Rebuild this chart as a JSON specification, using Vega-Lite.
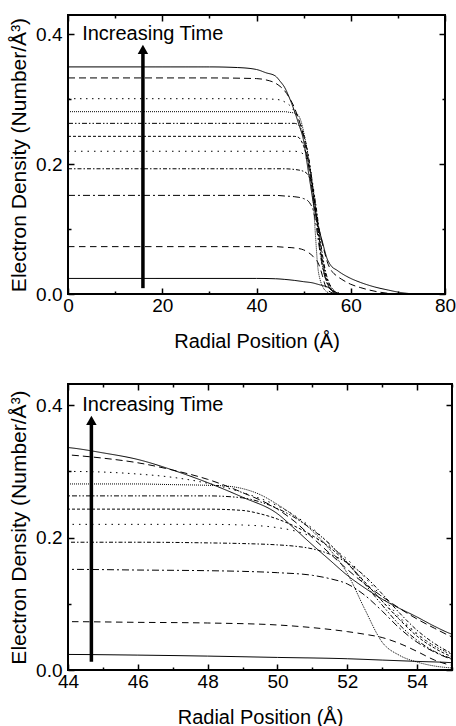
{
  "$schema": "https://vega.github.io/schema/vega-lite/v6.json",
  "background": "white",
  "padding": {"left": 7, "top": 13, "right": 0, "bottom": 0},
  "spacing": 30,
  "config": {
    "view": {"stroke": "black", "strokeWidth": 2},
    "font": "Liberation Sans",
    "axis": {
      "domain": false, "grid": false, "labelFont": "Liberation Sans", "labelFontSize": 19, "labelColor": "black",
      "titleFont": "Liberation Sans", "titleFontSize": 20, "titleFontWeight": "normal", "titleColor": "black",
      "tickColor": "black", "tickWidth": 1.5, "labelFlush": false, "labelOverlap": false
    },
    "axisX": {"labelPadding": 8, "titlePadding": 13},
    "axisY": {"labelPadding": 12, "titlePadding": 6, "titleFontSize": 21}
  },
  "datasets": {
    "curves": [
      {"c":"a","x":0,"y":0.350},{"c":"a","x":30,"y":0.350},{"c":"a","x":36,"y":0.349},{"c":"a","x":40,"y":0.346},{"c":"a","x":42,"y":0.341},{"c":"a","x":44,"y":0.336},{"c":"a","x":45,"y":0.328},{"c":"a","x":46,"y":0.318},{"c":"a","x":47,"y":0.302},{"c":"a","x":48,"y":0.283},{"c":"a","x":49,"y":0.261},{"c":"a","x":50,"y":0.236},{"c":"a","x":50.5,"y":0.213},{"c":"a","x":51,"y":0.189},{"c":"a","x":51.5,"y":0.166},{"c":"a","x":52,"y":0.143},{"c":"a","x":52.5,"y":0.124},{"c":"a","x":53,"y":0.107},{"c":"a","x":53.5,"y":0.093},{"c":"a","x":54,"y":0.080},{"c":"a","x":54.5,"y":0.066},{"c":"a","x":55,"y":0.054},{"c":"a","x":55.5,"y":0.047},{"c":"a","x":56,"y":0.042},{"c":"a","x":57,"y":0.037},{"c":"a","x":58,"y":0.032},{"c":"a","x":60,"y":0.024},{"c":"a","x":62,"y":0.018},{"c":"a","x":65,"y":0.011},{"c":"a","x":68,"y":0.006},{"c":"a","x":70,"y":0.003},{"c":"a","x":72,"y":0.001},{"c":"a","x":74,"y":0},{"c":"a","x":80,"y":0},
      {"c":"b","x":0,"y":0.333},{"c":"b","x":30,"y":0.333},{"c":"b","x":40,"y":0.332},{"c":"b","x":42,"y":0.330},{"c":"b","x":44,"y":0.325},{"c":"b","x":45,"y":0.320},{"c":"b","x":46,"y":0.313},{"c":"b","x":47,"y":0.302},{"c":"b","x":48,"y":0.288},{"c":"b","x":49,"y":0.268},{"c":"b","x":50,"y":0.243},{"c":"b","x":50.5,"y":0.224},{"c":"b","x":51,"y":0.200},{"c":"b","x":51.5,"y":0.176},{"c":"b","x":52,"y":0.152},{"c":"b","x":52.5,"y":0.130},{"c":"b","x":53,"y":0.111},{"c":"b","x":53.5,"y":0.093},{"c":"b","x":54,"y":0.077},{"c":"b","x":54.5,"y":0.063},{"c":"b","x":55,"y":0.050},{"c":"b","x":55.5,"y":0.041},{"c":"b","x":56,"y":0.035},{"c":"b","x":57,"y":0.028},{"c":"b","x":58,"y":0.023},{"c":"b","x":60,"y":0.015},{"c":"b","x":62,"y":0.010},{"c":"b","x":64,"y":0.006},{"c":"b","x":66,"y":0.003},{"c":"b","x":68,"y":0.001},{"c":"b","x":70,"y":0},{"c":"b","x":80,"y":0},
      {"c":"c","x":0,"y":0.301},{"c":"c","x":40,"y":0.301},{"c":"c","x":44,"y":0.300},{"c":"c","x":45,"y":0.299},{"c":"c","x":46,"y":0.296},{"c":"c","x":47,"y":0.291},{"c":"c","x":48,"y":0.282},{"c":"c","x":49,"y":0.268},{"c":"c","x":50,"y":0.248},{"c":"c","x":50.5,"y":0.233},{"c":"c","x":51,"y":0.214},{"c":"c","x":51.5,"y":0.190},{"c":"c","x":52,"y":0.163},{"c":"c","x":52.5,"y":0.133},{"c":"c","x":53,"y":0.104},{"c":"c","x":53.5,"y":0.077},{"c":"c","x":54,"y":0.054},{"c":"c","x":54.5,"y":0.036},{"c":"c","x":55,"y":0.023},{"c":"c","x":56,"y":0.009},{"c":"c","x":57,"y":0.003},{"c":"c","x":58,"y":0.001},{"c":"c","x":60,"y":0},{"c":"c","x":80,"y":0},
      {"c":"d","x":0,"y":0.281},{"c":"d","x":40,"y":0.281},{"c":"d","x":46,"y":0.281},{"c":"d","x":47,"y":0.280},{"c":"d","x":48,"y":0.279},{"c":"d","x":48.5,"y":0.278},{"c":"d","x":49,"y":0.274},{"c":"d","x":49.5,"y":0.265},{"c":"d","x":50,"y":0.250},{"c":"d","x":50.5,"y":0.232},{"c":"d","x":51,"y":0.210},{"c":"d","x":51.5,"y":0.182},{"c":"d","x":52,"y":0.146},{"c":"d","x":52.5,"y":0.092},{"c":"d","x":53,"y":0.042},{"c":"d","x":53.5,"y":0.022},{"c":"d","x":54,"y":0.012},{"c":"d","x":54.5,"y":0.006},{"c":"d","x":55,"y":0.003},{"c":"d","x":56,"y":0},{"c":"d","x":80,"y":0},
      {"c":"e","x":0,"y":0.263},{"c":"e","x":40,"y":0.263},{"c":"e","x":48,"y":0.263},{"c":"e","x":49,"y":0.260},{"c":"e","x":49.5,"y":0.254},{"c":"e","x":50,"y":0.244},{"c":"e","x":50.5,"y":0.230},{"c":"e","x":51,"y":0.212},{"c":"e","x":51.5,"y":0.190},{"c":"e","x":52,"y":0.162},{"c":"e","x":52.5,"y":0.130},{"c":"e","x":53,"y":0.098},{"c":"e","x":53.5,"y":0.068},{"c":"e","x":54,"y":0.045},{"c":"e","x":54.5,"y":0.028},{"c":"e","x":55,"y":0.017},{"c":"e","x":56,"y":0.005},{"c":"e","x":57,"y":0.001},{"c":"e","x":58,"y":0},{"c":"e","x":80,"y":0},
      {"c":"f","x":0,"y":0.243},{"c":"f","x":40,"y":0.243},{"c":"f","x":48,"y":0.243},{"c":"f","x":49,"y":0.241},{"c":"f","x":49.5,"y":0.236},{"c":"f","x":50,"y":0.228},{"c":"f","x":50.5,"y":0.217},{"c":"f","x":51,"y":0.203},{"c":"f","x":51.5,"y":0.185},{"c":"f","x":52,"y":0.161},{"c":"f","x":52.5,"y":0.133},{"c":"f","x":53,"y":0.104},{"c":"f","x":53.5,"y":0.076},{"c":"f","x":54,"y":0.051},{"c":"f","x":54.5,"y":0.033},{"c":"f","x":55,"y":0.020},{"c":"f","x":56,"y":0.006},{"c":"f","x":57,"y":0.001},{"c":"f","x":58,"y":0},{"c":"f","x":80,"y":0},
      {"c":"g","x":0,"y":0.220},{"c":"g","x":40,"y":0.220},{"c":"g","x":48,"y":0.220},{"c":"g","x":49,"y":0.219},{"c":"g","x":50,"y":0.215},{"c":"g","x":50.5,"y":0.210},{"c":"g","x":51,"y":0.201},{"c":"g","x":51.5,"y":0.187},{"c":"g","x":52,"y":0.167},{"c":"g","x":52.5,"y":0.140},{"c":"g","x":53,"y":0.110},{"c":"g","x":53.5,"y":0.080},{"c":"g","x":54,"y":0.055},{"c":"g","x":54.5,"y":0.036},{"c":"g","x":55,"y":0.024},{"c":"g","x":56,"y":0.008},{"c":"g","x":57,"y":0.002},{"c":"g","x":58,"y":0},{"c":"g","x":80,"y":0},
      {"c":"h","x":0,"y":0.193},{"c":"h","x":40,"y":0.193},{"c":"h","x":46,"y":0.193},{"c":"h","x":48,"y":0.192},{"c":"h","x":49,"y":0.191},{"c":"h","x":50,"y":0.189},{"c":"h","x":50.5,"y":0.187},{"c":"h","x":51,"y":0.183},{"c":"h","x":51.5,"y":0.175},{"c":"h","x":52,"y":0.162},{"c":"h","x":52.5,"y":0.142},{"c":"h","x":53,"y":0.115},{"c":"h","x":53.5,"y":0.086},{"c":"h","x":54,"y":0.060},{"c":"h","x":54.5,"y":0.040},{"c":"h","x":55,"y":0.025},{"c":"h","x":56,"y":0.009},{"c":"h","x":57,"y":0.002},{"c":"h","x":58,"y":0},{"c":"h","x":80,"y":0},
      {"c":"i","x":0,"y":0.152},{"c":"i","x":40,"y":0.152},{"c":"i","x":44,"y":0.152},{"c":"i","x":46,"y":0.151},{"c":"i","x":48,"y":0.150},{"c":"i","x":49,"y":0.149},{"c":"i","x":50,"y":0.147},{"c":"i","x":51,"y":0.143},{"c":"i","x":51.5,"y":0.138},{"c":"i","x":52,"y":0.130},{"c":"i","x":52.5,"y":0.113},{"c":"i","x":53,"y":0.089},{"c":"i","x":53.5,"y":0.063},{"c":"i","x":54,"y":0.042},{"c":"i","x":54.5,"y":0.027},{"c":"i","x":55,"y":0.016},{"c":"i","x":56,"y":0.005},{"c":"i","x":57,"y":0.001},{"c":"i","x":58,"y":0},{"c":"i","x":80,"y":0},
      {"c":"j","x":0,"y":0.073},{"c":"j","x":40,"y":0.073},{"c":"j","x":44,"y":0.073},{"c":"j","x":46,"y":0.072},{"c":"j","x":48,"y":0.071},{"c":"j","x":50,"y":0.068},{"c":"j","x":51,"y":0.064},{"c":"j","x":52,"y":0.058},{"c":"j","x":52.5,"y":0.054},{"c":"j","x":53,"y":0.049},{"c":"j","x":53.5,"y":0.040},{"c":"j","x":54,"y":0.028},{"c":"j","x":54.5,"y":0.015},{"c":"j","x":55,"y":0.007},{"c":"j","x":56,"y":0.002},{"c":"j","x":57,"y":0},{"c":"j","x":80,"y":0},
      {"c":"k","x":0,"y":0.024},{"c":"k","x":40,"y":0.024},{"c":"k","x":44,"y":0.0235},{"c":"k","x":46,"y":0.0225},{"c":"k","x":48,"y":0.021},{"c":"k","x":50,"y":0.019},{"c":"k","x":52,"y":0.017},{"c":"k","x":53,"y":0.015},{"c":"k","x":54,"y":0.013},{"c":"k","x":55,"y":0.011},{"c":"k","x":56,"y":0.006},{"c":"k","x":57,"y":0.002},{"c":"k","x":58,"y":0},{"c":"k","x":80,"y":0}
    ],
    "arrowTop": [{"x": 15.9, "y": 0.009, "y2": 0.372, "head": 0.377, "tx": 3, "ty": 0.400, "label": "Increasing Time"}],
    "arrowBottom": [{"x": 44.67, "y": 0.0125, "y2": 0.372, "head": 0.377, "tx": 44.41, "ty": 0.400, "label": "Increasing Time"}]
  },
  "vconcat": [
    {
      "width": 377, "height": 279,
      "layer": [
        {
          "data": {"name": "curves"},
          "mark": {"type": "line", "clip": true, "strokeWidth": 1, "color": "black", "interpolate": "monotone"},
          "encoding": {
            "x": {"field": "x", "type": "quantitative", "scale": {"domain": [0, 80], "nice": false, "zero": false},
              "axis": {"orient": "bottom", "values": [0,10,20,30,40,50,60,70,80], "labelExpr": "datum.value % 20 == 0 ? datum.label : ''",
                "tickSize": {"condition": {"test": "datum.value % 20 != 0", "value": -3}, "value": -6}, "title": "Radial Position (Å)"}},
            "y": {"field": "y", "type": "quantitative", "scale": {"domain": [0, 0.43], "nice": false},
              "axis": {"orient": "left", "values": [0,0.1,0.2,0.3,0.4], "format": ".1f", "labelExpr": "round(datum.value*10) % 2 == 0 ? datum.label : ''",
                "tickSize": {"condition": {"test": "round(datum.value*10) % 2 == 1", "value": -3}, "value": -6}, "title": "Electron Density (Number/Å³)"}},
            "strokeDash": {"field": "c", "type": "nominal", "legend": null,
              "scale": {"domain": ["a","b","c","d","e","f","g","h","i","j","k"],
                "range": [[1,0],[7,4],[1.5,4.5],[1,1],[5,2,1.5,2,1.5,2],[3,2],[1.5,5],[4,2,1.5,2],[7,3,2,3],[6.5,4.5],[1,0]]}}
          }
        },
        {
          "data": {"name": "arrowTop"},
          "mark": {"type": "rule", "strokeWidth": 3.5, "color": "black"},
          "encoding": {
            "x": {"field": "x", "type": "quantitative",
              "axis": {"orient": "top", "values": [0,10,20,30,40,50,60,70,80], "labels": false, "title": null,
                "tickSize": {"condition": {"test": "datum.value % 20 != 0", "value": -3}, "value": -6}}},
            "y": {"field": "y", "type": "quantitative",
              "axis": {"orient": "right", "values": [0,0.1,0.2,0.3,0.4], "labels": false, "title": null,
                "tickSize": {"condition": {"test": "round(datum.value*10) % 2 == 1", "value": -3}, "value": -6}}},
            "y2": {"field": "y2"}
          }
        },
        {
          "data": {"name": "arrowTop"},
          "mark": {"type": "point", "shape": "triangle-up", "filled": true, "size": 110, "color": "black", "opacity": 1},
          "encoding": {
            "x": {"field": "x", "type": "quantitative", "axis": null},
            "y": {"field": "head", "type": "quantitative", "axis": null}
          }
        },
        {
          "data": {"name": "arrowTop"},
          "mark": {"type": "text", "align": "left", "baseline": "middle", "fontSize": 20, "font": "Liberation Sans", "color": "black"},
          "encoding": {
            "x": {"field": "tx", "type": "quantitative", "axis": null},
            "y": {"field": "ty", "type": "quantitative", "axis": null},
            "text": {"field": "label"}
          }
        }
      ],
      "resolve": {"axis": {"x": "independent", "y": "independent"}}
    },
    {
      "width": 384, "height": 286,
      "layer": [
        {
          "data": {"name": "curves"},
          "mark": {"type": "line", "clip": true, "strokeWidth": 1, "color": "black", "interpolate": "monotone"},
          "encoding": {
            "x": {"field": "x", "type": "quantitative", "scale": {"domain": [44, 55], "nice": false, "zero": false},
              "axis": {"orient": "bottom", "values": [44,45,46,47,48,49,50,51,52,53,54,55], "labelExpr": "datum.value % 2 == 0 ? datum.label : ''",
                "tickSize": {"condition": {"test": "datum.value % 2 != 0", "value": -3}, "value": -6}, "title": "Radial Position (Å)"}},
            "y": {"field": "y", "type": "quantitative", "scale": {"domain": [0, 0.432], "nice": false},
              "axis": {"orient": "left", "values": [0,0.1,0.2,0.3,0.4], "format": ".1f", "labelExpr": "round(datum.value*10) % 2 == 0 ? datum.label : ''",
                "tickSize": {"condition": {"test": "round(datum.value*10) % 2 == 1", "value": -3}, "value": -6}, "title": "Electron Density (Number/Å³)"}},
            "strokeDash": {"field": "c", "type": "nominal", "legend": null,
              "scale": {"domain": ["a","b","c","d","e","f","g","h","i","j","k"],
                "range": [[1,0],[7,4],[1.5,4.5],[1,1],[5,2,1.5,2,1.5,2],[3,2],[1.5,5],[4,2,1.5,2],[7,3,2,3],[6.5,4.5],[1,0]]}}
          }
        },
        {
          "data": {"name": "arrowBottom"},
          "mark": {"type": "rule", "strokeWidth": 3.5, "color": "black"},
          "encoding": {
            "x": {"field": "x", "type": "quantitative",
              "axis": {"orient": "top", "values": [44,45,46,47,48,49,50,51,52,53,54,55], "labels": false, "title": null,
                "tickSize": {"condition": {"test": "datum.value % 2 != 0", "value": -3}, "value": -6}}},
            "y": {"field": "y", "type": "quantitative",
              "axis": {"orient": "right", "values": [0,0.1,0.2,0.3,0.4], "labels": false, "title": null,
                "tickSize": {"condition": {"test": "round(datum.value*10) % 2 == 1", "value": -3}, "value": -6}}},
            "y2": {"field": "y2"}
          }
        },
        {
          "data": {"name": "arrowBottom"},
          "mark": {"type": "point", "shape": "triangle-up", "filled": true, "size": 110, "color": "black", "opacity": 1},
          "encoding": {
            "x": {"field": "x", "type": "quantitative", "axis": null},
            "y": {"field": "head", "type": "quantitative", "axis": null}
          }
        },
        {
          "data": {"name": "arrowBottom"},
          "mark": {"type": "text", "align": "left", "baseline": "middle", "fontSize": 20, "font": "Liberation Sans", "color": "black"},
          "encoding": {
            "x": {"field": "tx", "type": "quantitative", "axis": null},
            "y": {"field": "ty", "type": "quantitative", "axis": null},
            "text": {"field": "label"}
          }
        }
      ],
      "resolve": {"axis": {"x": "independent", "y": "independent"}}
    }
  ]
}
